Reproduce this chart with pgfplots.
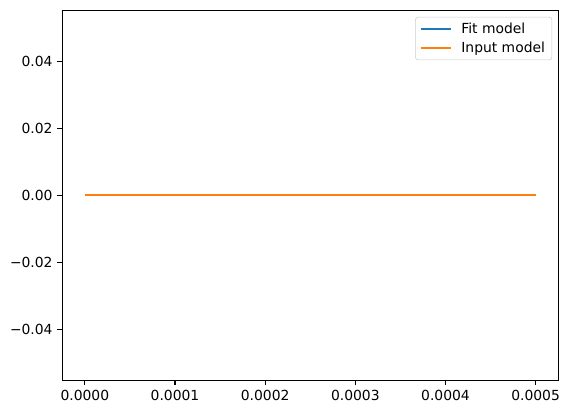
\documentclass[border=0pt]{standalone}
\usepackage{fontspec}
\setmainfont{DejaVu Sans}
\usepackage{pgfplots}
\pgfplotsset{compat=1.18}
\definecolor{mplblue}{HTML}{1F77B4}
\definecolor{mplorange}{HTML}{FF7F0E}
\begin{document}
\begin{tikzpicture}
\useasboundingbox (-44.9pt,-24.3pt) rectangle (364.9pt,273.8pt);
\begin{axis}[
  at={(0,0)}, anchor=south west,
  scale only axis, width=357.1pt, height=266.1pt,
  xmin=-0.000025, xmax=0.000525,
  ymin=-0.055, ymax=0.055,
  scaled x ticks=false, scaled y ticks=false,
  xtick={0,0.0001,0.0002,0.0003,0.0004,0.0005},
  xticklabels={0.0000,0.0001,0.0002,0.0003,0.0004,0.0005},
  ytick={-0.04,-0.02,0,0.02,0.04},
  yticklabels={−0.04,−0.02,0.00,0.02,0.04},
  tick align=outside, tick pos=left,
  major tick length=3.5pt,
  every tick/.style={black, line width=0.8pt},
  axis line style={line width=0.8pt},
  tick label style={font=\fontsize{10}{12}\selectfont},
  xticklabel style={yshift=-0.5pt},
  legend style={at={(rel axis cs:1,1)}, anchor=north east, xshift=-4.3pt, yshift=-4.5pt,
    draw=black!20, rounded corners=2pt, font=\fontsize{10}{12}\selectfont,
    inner xsep=3pt, inner ysep=2pt, row sep=0.5pt, column sep=5pt},
  legend cell align=left,
  legend image code/.code={\draw[#1, line width=1.5pt] (0pt,0pt) -- (21.6pt,0pt);},
]
\addplot[mplblue, line width=1.5pt] coordinates {(0,0) (0.0005,0)};
\addlegendentry{Fit model}
\addplot[mplorange, line width=1.5pt] coordinates {(0,0) (0.0005,0)};
\addlegendentry{Input model}
\end{axis}
\end{tikzpicture}
\end{document}
